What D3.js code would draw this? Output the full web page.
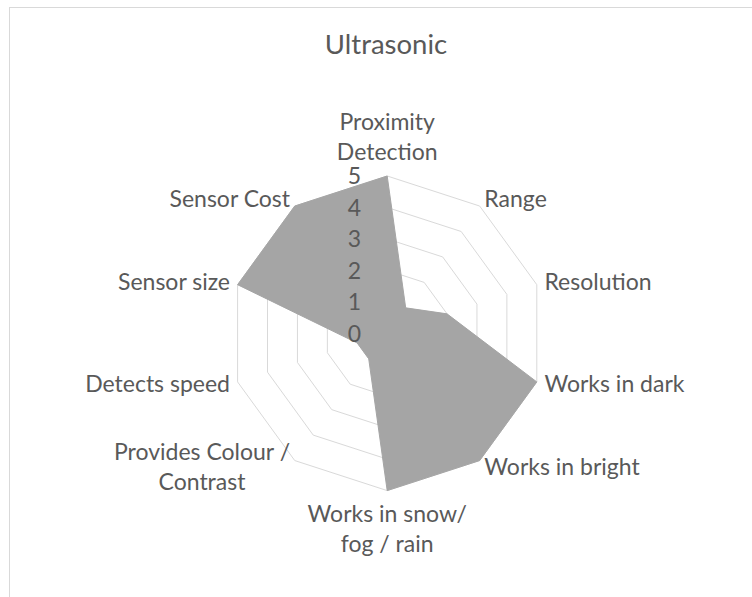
<!DOCTYPE html>
<html><head><meta charset="utf-8">
<script src="https://cdn.jsdelivr.net/npm/d3@7"></script>
<style>html,body{margin:0;padding:0;background:#fff;} svg{display:block;}</style>
</head><body><svg id="chart" width="752" height="597"></svg>
<script>
const title = "Ultrasonic";
const categories = ["Proximity\nDetection","Range","Resolution","Works in dark","Works in bright","Works in snow/\nfog / rain","Provides Colour /\nContrast","Detects speed","Sensor size","Sensor Cost"];
const values = [5,1,2,5,5,5,1,1,5,5];
const tickValues = [0,1,2,3,4,5];
const levels = [1,2,3,4,5];

const W = 752, H = 597;
const cx = 387.2, cy = 333.3, R = 157.3;
const font = "Lato, 'Noto Sans', sans-serif";
const textColor = "#595959", gridColor = "#d9d9d9", fillColor = "#a5a5a5";

const svg = d3.select("#chart");
svg.append("rect").attr("x",0).attr("y",0).attr("width",W).attr("height",H).attr("fill","#fff");
svg.append("rect").attr("x",9.5).attr("y",7.5).attr("width",W+20).attr("height",H+20)
  .attr("fill","none").attr("stroke",gridColor).attr("stroke-width",1);

svg.append("text").attr("x",386).attr("y",54).attr("text-anchor","middle")
  .attr("font-family",font).attr("font-size",27.5).attr("font-weight",400).attr("fill",textColor).text(title);

const n = categories.length;
const angle = d3.scaleLinear().domain([0,n]).range([0,2*Math.PI]);
const r = d3.scaleLinear().domain([0,5]).range([0,R]);

const g = svg.append("g").attr("transform",`translate(${cx},${cy})`);
const idx = d3.range(n);

// grid rings
const ringLine = d3.lineRadial().curve(d3.curveLinearClosed);
g.selectAll("path.ring").data(levels).join("path").attr("class","ring")
  .attr("d", l => ringLine(idx.map(i => [angle(i), r(l)])))
  .attr("fill","none").attr("stroke",gridColor).attr("stroke-width",1);

// data polygon
g.append("path")
  .attr("d", ringLine(values.map((v,i) => [angle(i), r(v)])))
  .attr("fill",fillColor).attr("stroke",fillColor).attr("stroke-width",1);

// tick labels
g.selectAll("text.tick").data(tickValues).join("text").attr("class","tick")
  .attr("x",-26).attr("y", v => -r(v)).attr("dy","0.36em").attr("text-anchor","end")
  .attr("font-family",font).attr("font-size",23).attr("fill",textColor).text(d => d);

// category labels
const LR = R + 8, LH = 30;
categories.forEach((c,i) => {
  const a = angle(i);
  const sx = Math.sin(a), cy_ = -Math.cos(a);
  const px = LR*sx, py = LR*cy_;
  const lines = c.split("\n");
  let baseline0;
  if (cy_ < -0.95) baseline0 = py - 8 - (lines.length-1)*LH;
  else if (cy_ > 0.95) baseline0 = py + 23;
  else baseline0 = py + 7.5 - (lines.length-1)*LH/2;
  const t = g.append("text").attr("font-family",font).attr("font-size",23).attr("fill",textColor)
    .attr("text-anchor","middle");
  const spans = lines.map((ln,k) => t.append("tspan").attr("y", baseline0 + k*LH).attr("x",0).text(ln));
  const widths = spans.map(s => s.node().getComputedTextLength());
  const bw = d3.max(widths);
  let centerX;
  if (Math.abs(sx) < 0.1) centerX = px;
  else if (sx > 0) centerX = px + bw/2;
  else centerX = px - bw/2;
  spans.forEach(s => s.attr("x", centerX));
});
</script></body></html>
